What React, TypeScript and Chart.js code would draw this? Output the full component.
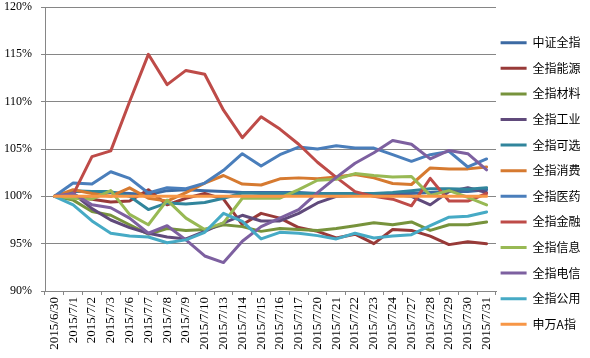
import React, { useEffect, useRef } from "react";
import { Chart, registerables } from "chart.js";

Chart.register(...registerables);

const categories = ["2015/6/30","2015/7/1","2015/7/2","2015/7/3","2015/7/6","2015/7/7","2015/7/8","2015/7/9","2015/7/10","2015/7/13","2015/7/14","2015/7/15","2015/7/16","2015/7/17","2015/7/20","2015/7/21","2015/7/22","2015/7/23","2015/7/24","2015/7/27","2015/7/28","2015/7/29","2015/7/30","2015/7/31"];

const seriesNames = ["中证全指","全指能源","全指材料","全指工业","全指可选","全指消费","全指医药","全指金融","全指信息","全指电信","全指公用","申万A指"];

const zzqz = [100,100.5,100.5,100.4,100.3,100.2,100.6,100.7,100.6,100.5,100.4,100.4,100.4,100.4,100.3,100.3,100.3,100.3,100.3,100.3,100.4,100.5,100.5,100.7];
const nengyuan = [100,100.0,99.7,99.4,99.5,100.7,99.1,99.8,100.3,99.7,97.0,98.2,97.7,96.7,96.3,95.6,96.0,95.0,96.5,96.4,95.8,94.9,95.2,95.0];
const cailiao = [100,99.6,98.4,98.0,97.0,96.0,96.6,96.4,96.5,97.0,96.8,96.3,96.6,96.5,96.4,96.6,96.9,97.2,97.0,97.3,96.4,97.0,97.0,97.3];
const gongye = [100,100.3,98.7,97.5,96.7,96.1,95.7,95.5,96.3,97.2,98.0,97.4,97.4,98.2,99.3,100.0,100.1,100.2,100.2,100.0,99.1,100.5,100.9,100.4];
const kexuan = [100,100.6,100.5,100.5,100.0,98.6,99.3,99.2,99.35,99.8,100.35,100.3,100.3,100.3,100.3,100.3,100.3,100.3,100.4,100.6,100.8,100.8,100.75,100.9];
const xiaofei = [100,100.7,100.3,100.0,100.9,99.8,99.5,100.4,101.4,102.2,101.3,101.2,101.85,101.95,101.85,102.05,102.3,101.95,101.35,101.25,103.0,102.9,102.9,103.1];
const yiyao = [100,101.4,101.3,102.6,101.9,100.35,100.9,100.8,101.4,102.75,104.5,103.2,104.4,105.2,105.0,105.35,105.1,105.1,104.4,103.7,104.4,104.75,103.1,103.95];
const jinrong = [100,100.2,104.2,104.8,110.0,115.0,111.8,113.3,112.9,109.1,106.2,108.4,107.1,105.5,103.6,102.0,100.5,100.0,99.7,99.0,101.9,99.5,99.5,100.3];
const xinxi = [100,99.8,99.7,100.6,98.1,97.0,99.6,97.7,96.5,97.2,99.8,99.8,99.8,100.7,101.7,101.8,102.4,102.2,102.05,102.1,100.1,100.6,99.9,99.1];
const dianxin = [100,100.3,99.1,98.8,97.7,96.1,96.9,95.4,93.7,93.0,95.25,96.8,97.7,98.6,100.4,102.0,103.5,104.6,105.9,105.5,103.95,104.85,104.5,102.8];
const gongyong = [100,99.1,97.4,96.1,95.8,95.7,95.1,95.4,96.2,98.2,97.35,95.5,96.2,96.1,95.85,95.5,96.1,95.6,95.8,95.95,96.9,97.8,97.9,98.35];
const swA = [100,100,100,100,100,100,100,100,100,100,100,100,100,100,100,100,100,100,100,100,100,100,100,100];

const seriesValues = [zzqz, nengyuan, cailiao, gongye, kexuan, xiaofei, yiyao, jinrong, xinxi, dianxin, gongyong, swA];
const seriesColors = ["#3C6AA3","#983A38","#77933C","#604A7B","#31859C","#D67A30","#4A7EBB","#BE4B48","#98B954","#7D60A0","#46AAC5","#F79646"];

const yTicks = [90, 95, 100, 105, 110, 115, 120];

const legendShift = {
  id: "legendShift",
  afterLayout(chart: any) {
    const l = chart.legend;
    if (l) {
      l.left -= 9;
      l.right -= 9;
      l.top += 4.5;
      l.bottom += 4.5;
    }
  },
};

export default function App() {
  const ref = useRef<HTMLCanvasElement | null>(null);
  useEffect(() => {
    if (!ref.current) return;
    const gridColor = "#868686";
    const chart = new Chart(ref.current, {
      type: "line",
      data: {
        labels: categories,
        datasets: seriesNames.map((name, i) => ({
          label: name,
          data: seriesValues[i],
          borderColor: seriesColors[i],
          backgroundColor: seriesColors[i],
          borderWidth: 3,
          pointRadius: 0,
          pointHoverRadius: 0,
          tension: 0,
          fill: false,
          borderJoinStyle: "round" as const,
          borderCapStyle: "round" as const,
          order: seriesNames.length - 1 - i,
        })),
      },
      options: {
        animation: false,
        responsive: false,
        maintainAspectRatio: false,
        layout: { padding: { left: 4, top: 0, right: 0, bottom: 0 } },
        plugins: {
          tooltip: { enabled: false },
          legend: {
            position: "right",
            maxWidth: 94,
            labels: {
              usePointStyle: true,
              pointStyle: "line",
              pointStyleWidth: 26,
              boxWidth: 26,
              padding: 13.6,
              color: "#000",
              font: { family: "'Noto Sans CJK SC'", size: 12 },
              sort: (a: any, b: any) => a.datasetIndex - b.datasetIndex,
            },
          },
        },
        scales: {
          x: {
            type: "category",
            offset: true,
            afterFit: (scale: any) => {
              scale.height = 67;
              scale.paddingLeft = 0;
              scale.paddingRight = 0;
            },
            grid: {
              display: true,
              drawOnChartArea: false,
              drawTicks: true,
              tickLength: 4,
              offset: true,
              color: gridColor,
            },
            border: { display: true, color: gridColor },
            ticks: {
              autoSkip: false,
              maxRotation: 90,
              minRotation: 90,
              padding: 2,
              color: "#000",
              font: { family: "'Liberation Serif'", size: 13 },
            },
          },
          y: {
            min: 90,
            max: 120,
            afterBuildTicks: (scale: any) => {
              scale.ticks = yTicks.map((v) => ({ value: v }));
            },
            afterFit: (scale: any) => {
              scale.width = 41;
              scale.paddingTop = 7;
              scale.paddingBottom = 0;
            },
            grid: { color: gridColor, tickLength: 4, drawTicks: true },
            border: { display: true, color: gridColor },
            ticks: {
              padding: 9,
              color: "#000",
              font: { family: "'Liberation Serif'", size: 12 },
              callback: (v: any) => v + "%",
            },
          },
        },
      },
      plugins: [legendShift],
    });
    return () => chart.destroy();
  }, []);
  return (
    <div style={{ position: "absolute", left: 0, top: 0, width: 590, height: 358, background: "#fff" }}>
      <canvas ref={ref} width={590} height={358} />
    </div>
  );
}
